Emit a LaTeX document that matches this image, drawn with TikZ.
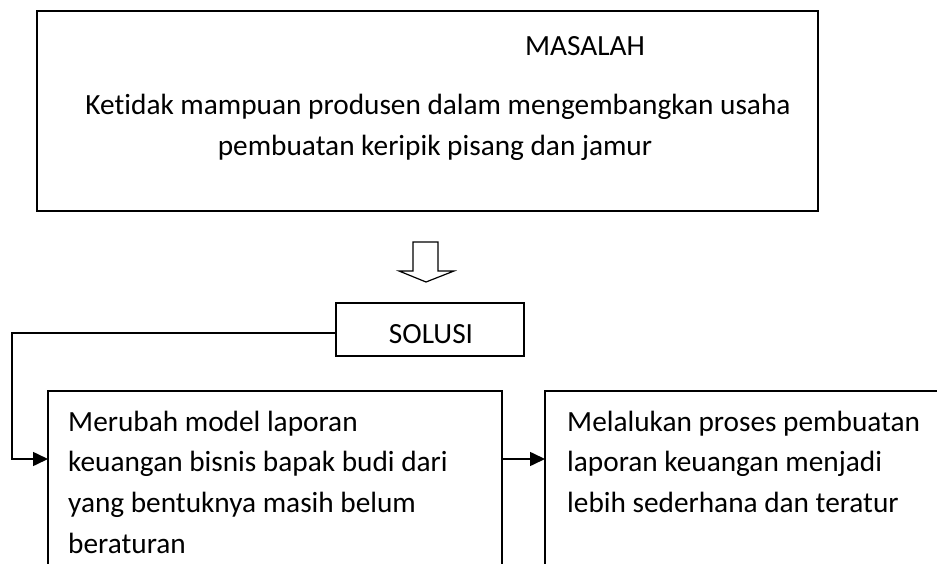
\documentclass[tikz,border=0pt]{standalone}
\usepackage{fontspec}
\setmainfont[Ligatures=CommonOff]{Carlito}
\usetikzlibrary{arrows.meta}
\begin{document}
\begin{tikzpicture}[x=1pt,y=-1pt,
  box/.style={draw, line width=1.6pt, anchor=north west, inner sep=0pt, outer sep=0pt},
  txt/.style={anchor=base west, inner sep=0pt, font=\fontsize{29.3}{34}\selectfont},
  ctxt/.style={anchor=base, inner sep=0pt, font=\fontsize{29.3}{34}\selectfont},
  conn/.style={line width=1.6pt},
  tip/.style={-{Triangle[length=15pt,width=14pt]}}]
\useasboundingbox (0,0) rectangle (937,564);
\clip (0,0) rectangle (937,564);
\fill[white] (0,0) rectangle (937,564);
% boxes
\node[box, line width=2pt, minimum width=781pt, minimum height=200pt] (masalah) at (37,11) {};
\node[box, minimum width=188pt, minimum height=53pt] (solusi) at (336,303) {};
\node[box, minimum width=454pt, minimum height=260pt] (kiri) at (48,391) {};
\node[box, minimum width=450pt, minimum height=260pt] (kanan) at (545,391) {};
% texts
\node[ctxt] (t0) at (585,56) {MASALAH};
\node[ctxt] (t1) at (438,115) {Ketidak mampuan produsen dalam mengembangkan usaha};
\node[ctxt] (t2) at (435,156) {pembuatan keripik pisang dan jamur};
\node[ctxt] (ts) at (431,343) {SOLUSI};
\node[txt] (l1) at (68,431) {Merubah model laporan};
\node[txt] (l2) at (68,471) {keuangan bisnis bapak budi dari};
\node[txt] (l3) at (68,512) {yang bentuknya masih belum};
\node[txt] (l4) at (68,553) {beraturan};
\node[txt] (r1) at (567,431) {Melalukan proses pembuatan};
\node[txt] (r2) at (567,471) {laporan keuangan menjadi};
\node[txt] (r3) at (567,512) {lebih sederhana dan teratur};
% hollow arrow
\draw[line width=1.2pt, line join=miter] (413,242) -- (438,242) -- (438,271) -- (454,271) -- (426,282) -- (399,271) -- (413,271) -- cycle;
% connectors
\coordinate (c1) at (12,333);
\coordinate (c2) at (12,459);
\draw[conn, tip] (solusi.west |- c1) -- (c1) -- (c2) -- (c2 -| kiri.west);
\draw[conn, tip] (c2 -| kiri.east) -- (c2 -| kanan.west);
\end{tikzpicture}
\end{document}
